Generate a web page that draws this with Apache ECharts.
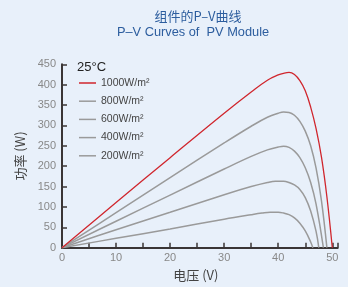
<!DOCTYPE html>
<html>
<head>
<meta charset="utf-8">
<script src="https://cdn.jsdelivr.net/npm/echarts@6/dist/echarts.min.js"></script>
<style>
    html, body {margin: 0; padding: 0; background: #e8f0fa;}
    #main {width: 348px; height: 287px;}
</style>
</head>
<body>
<div id="main"></div>
<script>
// [电压 V, 功率 W]
var curve_1000 = [[0, 0], [10, 111], [20, 221], [30, 330], [35, 382], [38, 411], [40, 424], [41, 428], [42, 430],
    [43, 425], [44, 410], [45, 385], [46, 345], [47, 292], [48, 222], [49, 125], [50, 0]];
var curve_800 = [[0, 0], [10, 86], [20, 172], [30, 257], [35, 298], [38, 320], [40, 330], [41, 333], [42, 332],
    [43, 325], [44, 310], [45, 286], [46, 250], [47, 195], [48, 115], [49, 0]];
var curve_600 = [[0, 0], [10, 65], [20, 129], [30, 193], [35, 224], [38, 240], [40, 247], [41, 249], [42, 246],
    [43, 237], [44, 221], [45, 196], [46, 160], [47, 107], [48.35, 0]];
var curve_400 = [[0, 0], [10, 44], [20, 87], [30, 130], [35, 150], [38, 160], [39.5, 163], [41, 163], [42, 160],
    [43, 154], [44, 143], [45, 123], [46, 90], [47, 40], [47.5, 0]];
var curve_200 = [[0, 0], [10, 23], [20, 46], [30, 70], [35, 81], [37, 85], [38.5, 87], [40, 87], [41, 85],
    [42, 81], [43, 73], [44, 60], [45, 41], [46, 14], [46.4, 0]];

var legend_names = ['1000W/m²', '800W/m²', '600W/m²', '400W/m²', '200W/m²'];
var all_curves = [curve_1000, curve_800, curve_600, curve_400, curve_200];
var line_colors = ['#d0262d', '#9a9a9a', '#9a9a9a', '#9a9a9a', '#9a9a9a'];

var chart = echarts.init(document.getElementById('main'));

var series_list = [];
for (var i = all_curves.length - 1; i >= 0; i--) {
    series_list.push({
        name: legend_names[i], type: 'line', data: all_curves[i],
        smooth: 0.4, showSymbol: false, symbol: 'none',
        lineStyle: {color: line_colors[i], width: i === 0 ? 1.3 : 1.5},
        itemStyle: {color: line_colors[i]},
        z: i === 0 ? 5 : 3,
    });
}

chart.setOption({
    backgroundColor: '#e8f0fa',
    animation: false,
    title: [
        {
            text: '组件的P–V曲线', left: 193, top: 5, textAlign: 'center',
            textStyle: {fontSize: 13, fontWeight: 'normal', color: '#2c5d9e', fontFamily: 'Noto Sans CJK SC'},
        },
        {
            text: 'P–V Curves of  PV Module', left: 188, top: 21, textAlign: 'center',
            textStyle: {fontSize: 12.8, fontWeight: 'normal', color: '#2c5d9e', fontFamily: 'Liberation Sans'},
        },
    ],
    graphic: [{
        type: 'text', left: 77, top: 61,
        style: {text: '25°C', fontSize: 13, fill: '#222', fontFamily: 'Liberation Sans'},
    }],
    legend: {
        data: legend_names, orient: 'vertical', left: 79, top: 77, padding: 0,
        icon: 'rect', itemWidth: 17, itemHeight: 1.5, itemGap: 6.2,
        textStyle: {fontSize: 10.5, lineHeight: 12, color: '#444', fontFamily: 'Liberation Sans'},
    },
    grid: {left: 62, top: 64.3, right: 10.3, bottom: 39.3},
    xAxis: {
        type: 'value', min: 0, max: 51, interval: 5,
        name: '电压 (V)', nameLocation: 'middle', nameGap: 17,
        nameTextStyle: {fontSize: 13, color: '#444', padding: [0, 8, 0, 0], fontFamily: 'Noto Sans CJK SC'},
        axisLine: {lineStyle: {color: '#3a3535', width: 2}},
        axisTick: {inside: true, length: 5, lineStyle: {color: '#3a3535', width: 1.5}},
        axisLabel: {
            fontSize: 11, color: '#888', margin: 5, fontFamily: 'Liberation Sans',
            formatter: function (v) {
                return v % 10 === 0 ? String(v) : '';
            },
        },
        splitLine: {show: false},
    },
    yAxis: {
        type: 'value', min: 0, max: 450, interval: 50,
        name: '功率 (W)', nameLocation: 'middle', nameGap: 31, nameRotate: 90,
        nameTextStyle: {fontSize: 13, color: '#444', fontFamily: 'Noto Sans CJK SC'},
        axisLine: {lineStyle: {color: '#3a3535', width: 2}},
        axisTick: {inside: true, length: 5, lineStyle: {color: '#3a3535', width: 1.5}},
        axisLabel: {fontSize: 11, color: '#888', margin: 6, fontFamily: 'Liberation Sans'},
        splitLine: {show: false},
    },
    series: series_list,
});
</script>
</body>
</html>
